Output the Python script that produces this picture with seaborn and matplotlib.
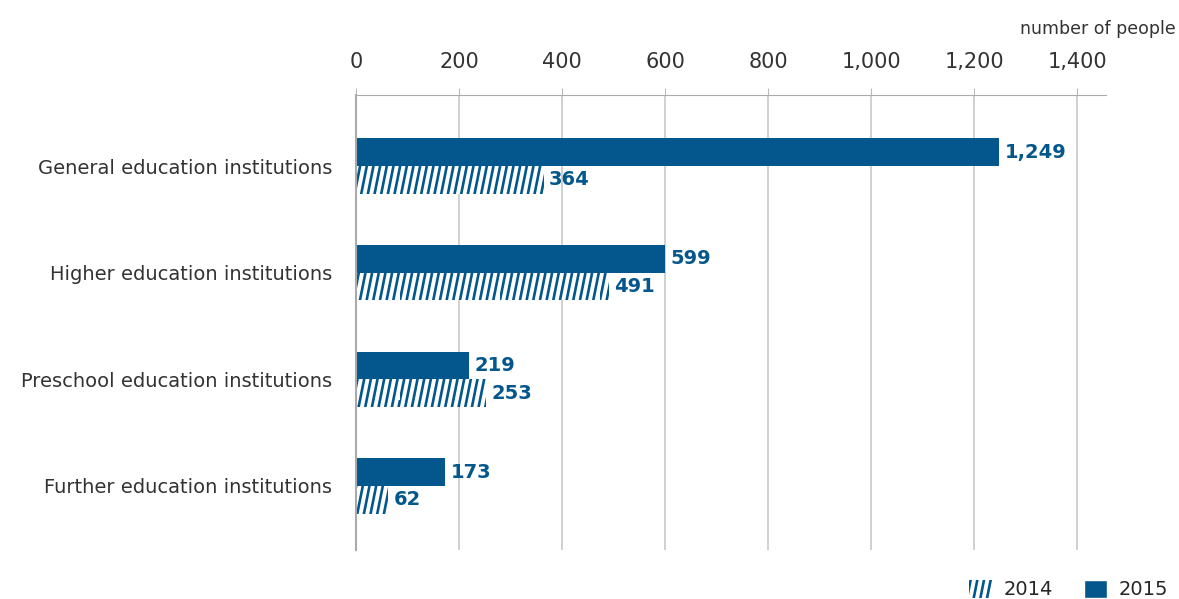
import matplotlib.pyplot as plt
import matplotlib.patches as mpatches
import matplotlib.hatch as mhatch
from matplotlib.path import Path
import pandas as pd
import seaborn as sns

# data
categories = ['General education institutions', 'Higher education institutions',
              'Preschool education institutions', 'Further education institutions']
values_2015 = [1249, 599, 219, 173]
values_2014 = [364, 491, 253, 62]
years = ['2015', '2014']
tick_values = [0, 200, 400, 600, 800, 1000, 1200, 1400]

blue = '#04578C'


# steeper forward hatch than matplotlib's 45 degree one
class SteepHatch(mhatch.HatchPatternBase):
    def __init__(self, hatch, density):
        self.num_lines = 15 if '/' in hatch else 0
        self.num_vertices = self.num_lines * 4

    def set_vertices_and_codes(self, vertices, codes):
        n = self.num_lines
        d = 3 / n
        k = 0
        for i in range(n):
            x0 = i / n
            for shift in (0, -1):
                vertices[k] = (x0 + shift - 0.2 * d, -0.2)
                vertices[k + 1] = (x0 + shift + 1.2 * d, 1.2)
                codes[k] = Path.MOVETO
                codes[k + 1] = Path.LINETO
                k += 2


mhatch._hatch_types = [SteepHatch if h is mhatch.NorthEastHatch else h
                       for h in mhatch._hatch_types]

df = pd.DataFrame({
    'category': categories * 2,
    'year': ['2015'] * 4 + ['2014'] * 4,
    'value': values_2015 + values_2014,
})

sns.set_style('white')
plt.rcParams['font.family'] = ['DejaVu Sans']
plt.rcParams['hatch.linewidth'] = 1.9

fig = plt.figure(figsize=(11.79, 5.99), dpi=100)
ax = fig.add_axes([0.302, 0.082, 0.636, 0.759])

sns.barplot(data=df, y='category', x='value', hue='year', hue_order=years,
            orient='h', width=0.52, palette=[blue, 'white'], saturation=1,
            legend=False, ax=ax)

# style the 2014 bars with hatching
for bar in ax.containers[1]:
    bar.set_hatch('/')
    bar.set_edgecolor(blue)
    bar.set_linewidth(0)
for bar in ax.containers[0]:
    bar.set_linewidth(0)

for cont in ax.containers:
    ax.bar_label(cont, labels=[f'{v.get_width():,.0f}' for v in cont], padding=4,
                 color=blue, fontsize=14, fontweight='bold')

ax.set_xlim(0, 1456)
ax.set_ylim(3.6, -0.665)
ax.xaxis.tick_top()
ax.set_xticks(tick_values)
ax.set_xticklabels([f'{t:,}' for t in tick_values], fontsize=15, color='#333333')
ax.tick_params(axis='x', length=5, color='#bbbbbb', pad=12)
ax.tick_params(axis='y', length=0, labelsize=14, pad=17, colors='#333333')
ax.grid(axis='x', color='#c8c8c8', linewidth=1.2)
ax.set_axisbelow(True)
ax.set_xlabel('')
ax.set_ylabel('')
for side in ['right', 'bottom']:
    ax.spines[side].set_visible(False)
ax.spines['top'].set_color('#aaaaaa')
ax.spines['left'].set_color('#aaaaaa')
ax.spines['left'].set_linewidth(1.5)

fig.text(0.997, 0.952, 'number of people', ha='right', va='center', fontsize=12.5, color='#333333')

handles = [mpatches.Patch(facecolor='white', edgecolor=blue, hatch='/', linewidth=0, label='2014'),
           mpatches.Patch(facecolor=blue, label='2015')]
fig.legend(handles=handles, loc='lower right', bbox_to_anchor=(1.006, -0.03), ncol=2,
           frameon=False, fontsize=14, handlelength=1.2, handleheight=1.0, columnspacing=1.6,
           handletextpad=0.6)

plt.savefig('out.png', dpi=100)
